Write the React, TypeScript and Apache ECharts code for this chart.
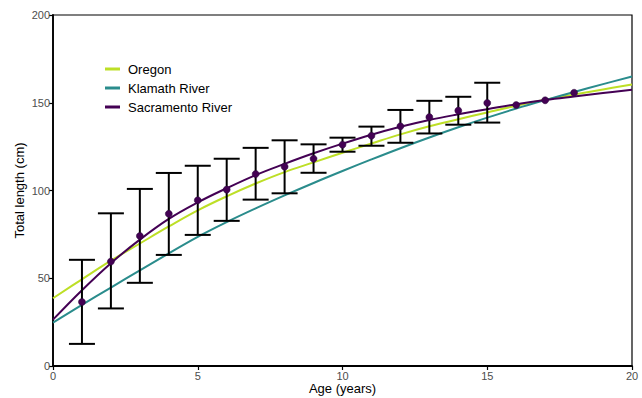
import React, { useEffect, useRef } from "react";
import * as echarts from "echarts";

// Fitted curve values at ages 0..20
const curveAges = [0, 1, 2, 3, 4, 5, 6, 7, 8, 9, 10, 11, 12, 13, 14, 15, 16, 17, 18, 19, 20];
const oregon = [38.6, 49.4, 60.0, 69.8, 79.5, 88.7, 96.7, 104.0, 110.5, 116.0, 121.5, 126.8, 132.0, 136.6, 140.6, 144.5, 148.3, 151.7, 154.7, 157.6, 160.4];
const klamath = [24.7, 34.8, 44.7, 54.5, 64.2, 73.6, 82.0, 89.8, 97.2, 104.3, 111.1, 117.7, 124.1, 130.2, 136.0, 141.5, 146.7, 151.5, 156.1, 160.6, 165.0];
const sacramento = [26.4, 43.2, 58.6, 72.0, 83.8, 93.2, 101.3, 108.8, 115.2, 121.2, 126.7, 131.8, 136.3, 140.2, 143.4, 146.3, 149.2, 151.6, 153.6, 155.5, 157.4];

// Observed mean lengths (Sacramento River)
const obsAges = [1, 2, 3, 4, 5, 6, 7, 8, 9, 10, 11, 12, 13, 14, 15, 16, 17, 18];
const obsMeans = [36.5, 59.5, 74.1, 86.7, 94.4, 100.5, 109.4, 113.6, 118.1, 126.1, 131.2, 136.6, 141.8, 145.5, 149.9, 148.7, 151.4, 155.7];
// Error bars (ages 1..15)
const barAges = [1, 2, 3, 4, 5, 6, 7, 8, 9, 10, 11, 12, 13, 14, 15];
const barLow = [12.6, 32.8, 47.4, 63.3, 74.7, 82.7, 94.8, 98.4, 110.1, 122.1, 125.5, 127.2, 132.5, 137.5, 138.7];
const barHigh = [60.5, 87.0, 100.9, 110.0, 114.1, 118.1, 124.3, 128.6, 126.3, 130.1, 136.4, 145.9, 151.1, 153.4, 161.4];

const xTicks = { min: 0, max: 20, interval: 5 };
const yTicks = { min: 0, max: 200, interval: 50 };

const FONT = "'Liberation Sans', Arial, sans-serif";

export default function App() {
  const ref = useRef<HTMLDivElement>(null);
  useEffect(() => {
    if (!ref.current) return;
    const chart = echarts.init(ref.current, undefined, { renderer: "svg" });
    const pair = (ys: number[]) => curveAges.map((a, i) => [a, ys[i]]);
    const barData = barAges.map((a, i) => [a, barLow[i], barHigh[i]]);
    chart.setOption({
      animation: false,
      backgroundColor: "#fff",
      textStyle: { fontFamily: FONT },
      grid: {
        left: 53,
        right: 10,
        top: 15,
        bottom: 32,
        containLabel: false,
        outerBoundsMode: "none",
        show: true,
        borderColor: "#000",
        borderWidth: 1.2,
        backgroundColor: "transparent",
      },
      legend: {
        orient: "vertical",
        left: 100,
        top: 57,
        icon: "rect",
        itemWidth: 15,
        itemHeight: 3,
        itemGap: 5,
        textStyle: { fontFamily: FONT, fontSize: 13, color: "#000", lineHeight: 14, padding: [0, 0, 0, 3] },
        data: ["Oregon", "Klamath River", "Sacramento River"],
      },
      xAxis: {
        type: "value",
        min: xTicks.min,
        max: xTicks.max,
        interval: xTicks.interval,
        name: "Age (years)",
        nameLocation: "middle",
        nameGap: 16,
        nameMoveOverlap: false,
        nameTextStyle: { fontFamily: FONT, fontSize: 13, color: "#000" },
        axisLine: { show: true, lineStyle: { color: "#000", width: 1.8 } },
        axisTick: { show: true, length: 4, lineStyle: { color: "#000", width: 1.2 } },
        axisLabel: { color: "#4d4d4d", fontSize: 11, fontFamily: FONT, margin: 4 },
        splitLine: { show: false },
      },
      yAxis: {
        type: "value",
        min: yTicks.min,
        max: yTicks.max,
        interval: yTicks.interval,
        name: "Total length (cm)",
        nameLocation: "middle",
        nameGap: 27,
        nameMoveOverlap: false,
        nameTextStyle: { fontFamily: FONT, fontSize: 13, color: "#000" },
        axisLine: { show: true, lineStyle: { color: "#000", width: 1.8 } },
        axisTick: { show: true, length: 4, lineStyle: { color: "#000", width: 1.2 } },
        axisLabel: { color: "#4d4d4d", fontSize: 11, fontFamily: FONT, margin: 3 },
        splitLine: { show: false },
      },
      series: [
        {
          name: "Oregon",
          type: "line",
          data: pair(oregon),
          smooth: 0.4,
          showSymbol: false,
          lineStyle: { color: "#bddf26", width: 2 },
          itemStyle: { color: "#bddf26" },
          z: 2,
        },
        {
          name: "Klamath River",
          type: "line",
          data: pair(klamath),
          smooth: 0.4,
          showSymbol: false,
          lineStyle: { color: "#2a8c8c", width: 2 },
          itemStyle: { color: "#2a8c8c" },
          z: 2,
        },
        {
          name: "Sacramento River",
          type: "line",
          data: pair(sacramento),
          smooth: 0.4,
          showSymbol: false,
          lineStyle: { color: "#440154", width: 2 },
          itemStyle: { color: "#440154" },
          z: 2,
        },
        {
          name: "errorbars",
          type: "custom",
          data: barData,
          encode: { x: 0, y: [1, 2] },
          z: 3,
          renderItem: (_params: any, api: any) => {
            const x = api.value(0);
            const lo = api.coord([x, api.value(1)]);
            const hi = api.coord([x, api.value(2)]);
            const half = 13;
            const style = { stroke: "#000", lineWidth: 2 };
            return {
              type: "group",
              children: [
                { type: "line", shape: { x1: lo[0], y1: lo[1], x2: hi[0], y2: hi[1] }, style },
                { type: "line", shape: { x1: lo[0] - half, y1: lo[1], x2: lo[0] + half, y2: lo[1] }, style },
                { type: "line", shape: { x1: hi[0] - half, y1: hi[1], x2: hi[0] + half, y2: hi[1] }, style },
              ],
            };
          },
        },
        {
          name: "means",
          type: "scatter",
          data: obsAges.map((a, i) => [a, obsMeans[i]]),
          symbolSize: 7,
          itemStyle: { color: "#440154", borderColor: "#2a0a3a", borderWidth: 0.5, opacity: 1 },
          z: 4,
        },
      ],
    });
    return () => chart.dispose();
  }, []);
  return (
    <div
      ref={ref}
      style={{ position: "fixed", left: 0, top: 0, width: 642, height: 398 }}
    />
  );
}
